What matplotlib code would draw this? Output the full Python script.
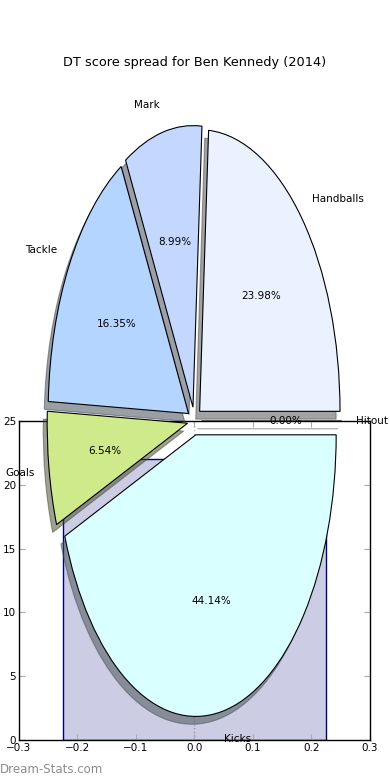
import matplotlib
matplotlib.use('Agg')
from matplotlib import pyplot

# score categories for the pie
labels = ['Handballs', 'Mark', 'Tackle', 'Goals', 'Kicks', 'Hitout']
shares = [23.98, 8.99, 16.35, 6.54, 44.14, 0.0]
colors = ['#eaf2ff', '#c4d8ff', '#b3d5ff', '#cfea8a', '#d9ffff', '#e0e0e0']

# background bar
bar_x = [0.0]
bar_heights = [22]

TITLE = "DT score spread for Ben Kennedy (2014)"


def main():
    fig = pyplot.figure(figsize=(3.9, 7.8), dpi=100)

    # bar axes underneath
    ax = fig.add_axes([0.0487, 0.0513, 0.9, 0.409])
    ax.bar(bar_x, bar_heights, width=0.45, facecolor=(0, 0, 0.5, 0.2),
           edgecolor='#000080', linewidth=1)
    ax.axvline(0, color='#bbbbbb', linestyle=':', linewidth=1, zorder=0.5)
    ax.set_xlim(-0.3, 0.3)
    ax.set_ylim(0, 25)
    ax.set_xticks([-0.3, -0.2, -0.1, 0.0, 0.1, 0.2, 0.3])
    ax.set_yticks([0, 5, 10, 15, 20, 25])
    ax.tick_params(direction='in', top=True, right=True, length=4,
                   color='#aaaaaa', labelsize=7.5, pad=2)
    for sp in ax.spines.values():
        sp.set_linewidth(1)

    # pie axes on top
    pax = fig.add_axes([0.0487, 0.009, 0.9, 0.9026])
    pax.pie(shares, labels=labels, colors=colors, explode=[0.05] * len(shares),
            shadow=True, startangle=0, autopct='%.2f%%',
            wedgeprops=dict(edgecolor='black', linewidth=0.8),
            textprops=dict(fontsize=7.5))
    pax.set_aspect('auto')
    pax.set_xlim(-1.25, 1.25)
    pax.set_ylim(-1.25, 1.25)
    pax.set_frame_on(False)
    pax.set_xticks([])
    pax.set_yticks([])
    pax.set_title(TITLE, fontsize=9.3, pad=2)

    fig.text(0.0, 0.005, 'Dream-Stats.com', color='#8c8c8c', fontsize=8.5,
             ha='left', va='bottom')

    fig.savefig('out.png', dpi=100)


if __name__ == '__main__':
    main()
